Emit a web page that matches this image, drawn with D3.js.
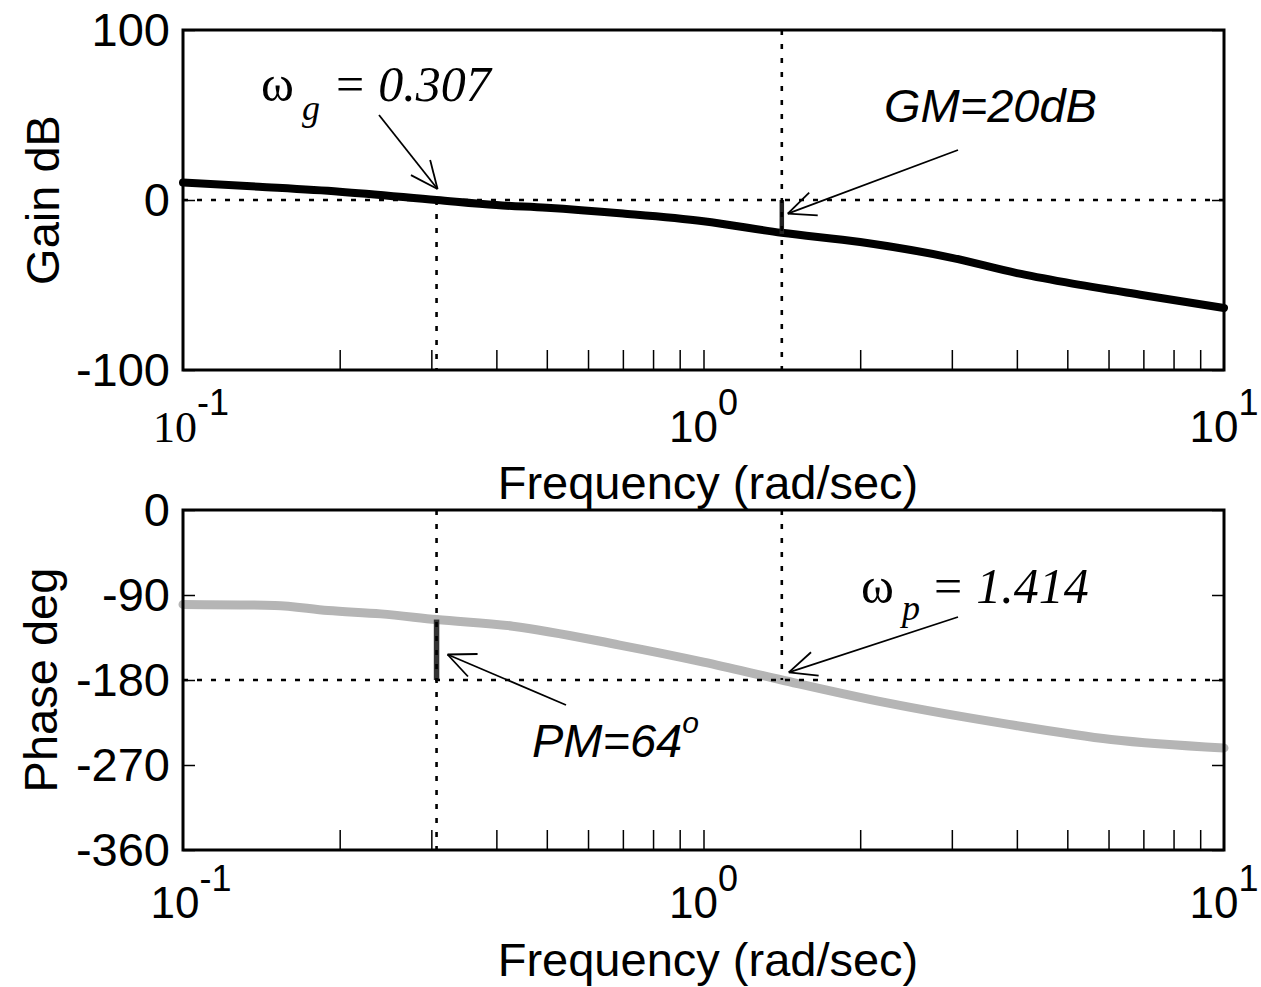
<!DOCTYPE html>
<html>
<head>
<meta charset="utf-8">
<title>Bode plot</title>
<script src="https://d3js.org/d3.v7.min.js"></script>
<style>
  body { margin: 0; background: #fff; }
  text { font-family: "Liberation Sans", Arial, sans-serif; }
</style>
</head>
<body>
<div id="chart"></div>
<script>
// gain curve
const freqGain = [0.1, 0.14, 0.2, 0.307, 0.4, 0.5, 0.7, 1.0, 1.414, 2, 3, 4, 5, 7, 10];
const gainDb = [10.3, 7.8, 4.9, 0, -3, -4.6, -8, -12.5, -19.3, -24.7, -34, -43, -48.6, -56, -63.5];

// phase curve
const freqPhase = [0.1, 0.15, 0.19, 0.24, 0.307, 0.43, 0.69, 1.0, 1.414, 2.24, 3.86, 6.07, 10];
const phaseDeg = [-100, -101, -106.5, -110, -116, -123, -143, -161, -180, -204, -227, -243, -252];

const gainTicks = [-100, 0, 100];
const phaseTicks = [0, -90, -180, -270, -360];
const decadeTicks = [0.1, 1, 10];
const decadeExp = ["-1", "0", "1"];
const minorTicks = [0.2, 0.3, 0.4, 0.5, 0.6, 0.7, 0.8, 0.9, 1, 2, 3, 4, 5, 6, 7, 8, 9];

const wg = 0.307, wp = 1.414, gm = 20, pm = 64;

const W = 1261, H = 987;
const left = 183, right = 1224;

const svg = d3.select("#chart").append("svg")
    .attr("width", W).attr("height", H);

const x = d3.scaleLog().domain([0.1, 10]).range([left, right]);
const yG = d3.scaleLinear().domain([-100, 100]).range([370, 30]);
const yP = d3.scaleLinear().domain([-360, 0]).range([850, 510]);

function frame(y, ticks, top, bottom) {
  const g = svg.append("g");
  // x minor ticks from bottom
  g.append("g")
      .attr("transform", "translate(0," + bottom + ")")
      .call(d3.axisBottom(x).tickValues(minorTicks).tickSize(-20).tickFormat(""))
      .call(a => a.select(".domain").remove())
      .call(a => a.selectAll("line").attr("stroke-width", 1.5));
  g.append("g")
      .attr("transform", "translate(" + left + ",0)")
      .call(d3.axisLeft(y).tickValues(ticks).tickSize(-12).tickPadding(13).tickFormat(d => String(d)))
      .call(a => a.select(".domain").remove())
      .call(a => a.selectAll("line").attr("stroke-width", 1.5))
      .call(a => a.selectAll("text").attr("font-size", 47).attr("fill", "#000")
          .attr("font-family", "'Liberation Sans', Arial, sans-serif"));
  g.append("g")
      .attr("transform", "translate(" + right + ",0)")
      .call(d3.axisRight(y).tickValues(ticks).tickSize(-12).tickFormat(""))
      .call(a => a.select(".domain").remove())
      .call(a => a.selectAll("line").attr("stroke-width", 1.5));
  return g;
}

function decadeLabels(baseline, serifFirst) {
  decadeTicks.forEach((d, i) => {
    const t = svg.append("text")
        .attr("x", x(d) + (i === 0 ? 8 : 0))
        .attr("y", baseline)
        .attr("text-anchor", "middle")
        .attr("font-size", 44);
    t.append("tspan")
        .style("font-family", serifFirst && i === 0 ? "'Liberation Serif', serif" : null)
        .text("10");
    t.append("tspan").attr("dy", -27).attr("font-size", 36).text(decadeExp[i]);
  });
}

function dotted(x1, y1, x2, y2) {
  svg.append("line")
      .attr("x1", x1).attr("y1", y1).attr("x2", x2).attr("y2", y2)
      .attr("stroke", "#000").attr("stroke-width", 2.6)
      .attr("stroke-dasharray", "5,9");
}

function arrow(x1, y1, x2, y2) {
  const g = svg.append("g").attr("stroke", "#000").attr("stroke-width", 1.8).attr("fill", "none");
  g.append("line").attr("x1", x1).attr("y1", y1).attr("x2", x2).attr("y2", y2);
  const a = Math.atan2(y1 - y2, x1 - x2), len = 30, spread = 0.42;
  [a - spread, a + spread].forEach(b => {
    g.append("line").attr("x1", x2).attr("y1", y2)
        .attr("x2", x2 + len * Math.cos(b)).attr("y2", y2 + len * Math.sin(b));
  });
}

const serif = "'Liberation Serif', 'Times New Roman', serif";

// ---------- top: gain ----------
frame(yG, gainTicks, 30, 370);

svg.append("path")
    .datum(freqGain.map((f, i) => [f, gainDb[i]]))
    .attr("fill", "none").attr("stroke", "#000").attr("stroke-width", 8)
    .attr("stroke-linecap", "round").attr("stroke-linejoin", "round")
    .attr("d", d3.line().x(d => x(d[0])).y(d => yG(d[1])).curve(d3.curveMonotoneX));

svg.append("line")
    .attr("x1", x(wp)).attr("x2", x(wp)).attr("y1", yG(0)).attr("y2", yG(-gm))
    .attr("stroke", "#222").attr("stroke-width", 4.5);

dotted(left, yG(0), right, yG(0));
dotted(x(wg), yG(0), x(wg), 370);
dotted(x(wp), 30, x(wp), 370);

svg.append("rect").attr("x", left).attr("y", 30).attr("width", right - left).attr("height", 340)
    .attr("fill", "none").attr("stroke", "#000").attr("stroke-width", 3);

decadeLabels(442, true);
svg.append("text").attr("x", 708).attr("y", 499).attr("text-anchor", "middle")
    .attr("font-size", 47).text("Frequency (rad/sec)");
svg.append("text").attr("transform", "translate(59,200) rotate(-90)")
    .attr("text-anchor", "middle").attr("font-size", 47).text("Gain dB");

const wgLabel = svg.append("text").attr("x", 261).attr("y", 101)
    .attr("font-family", serif).attr("font-size", 50);
wgLabel.append("tspan").style("font-family", serif).text("ω");
wgLabel.append("tspan").style("font-family", serif).attr("font-style", "italic")
    .attr("font-size", 36).attr("dx", 8).attr("dy", 19).text("g");
wgLabel.append("tspan").style("font-family", serif).attr("dx", 16).attr("dy", -19).text("=");
wgLabel.append("tspan").style("font-family", serif).attr("font-style", "italic").attr("dx", 14).text("0.307");
arrow(379, 115, x(wg) + 1, yG(0) - 11);

svg.append("text").attr("x", 884).attr("y", 122).attr("font-size", 47)
    .attr("font-style", "italic").text("GM=20dB");
arrow(958, 150, x(wp) + 6, yG(-8));

// ---------- bottom: phase ----------
frame(yP, phaseTicks, 510, 850);

svg.append("path")
    .datum(freqPhase.map((f, i) => [f, phaseDeg[i]]))
    .attr("fill", "none").attr("stroke", "#b5b5b5").attr("stroke-width", 9)
    .attr("stroke-linecap", "round").attr("stroke-linejoin", "round")
    .attr("d", d3.line().x(d => x(d[0])).y(d => yP(d[1])).curve(d3.curveMonotoneX));

svg.append("line")
    .attr("x1", x(wg)).attr("x2", x(wg)).attr("y1", yP(-180 + pm)).attr("y2", yP(-180))
    .attr("stroke", "#333").attr("stroke-width", 5.5);

dotted(left, yP(-180), right, yP(-180));
dotted(x(wg), 510, x(wg), 850);
dotted(x(wp), 510, x(wp), yP(-180));

svg.append("rect").attr("x", left).attr("y", 510).attr("width", right - left).attr("height", 340)
    .attr("fill", "none").attr("stroke", "#000").attr("stroke-width", 3);

decadeLabels(918, false);
svg.append("text").attr("x", 708).attr("y", 976).attr("text-anchor", "middle")
    .attr("font-size", 47).text("Frequency (rad/sec)");
svg.append("text").attr("transform", "translate(57,680) rotate(-90)")
    .attr("text-anchor", "middle").attr("font-size", 47).text("Phase deg");

const wpLabel = svg.append("text").attr("x", 861).attr("y", 603)
    .attr("font-family", serif).attr("font-size", 50);
wpLabel.append("tspan").style("font-family", serif).text("ω");
wpLabel.append("tspan").style("font-family", serif).attr("font-style", "italic")
    .attr("font-size", 36).attr("dx", 8).attr("dy", 17).text("p");
wpLabel.append("tspan").style("font-family", serif).attr("dx", 14).attr("dy", -17).text("=");
wpLabel.append("tspan").style("font-family", serif).attr("font-style", "italic").attr("dx", 14).text("1.414");
arrow(958, 617, x(wp) + 7, yP(-172));

const pmLabel = svg.append("text").attr("x", 532).attr("y", 757)
    .attr("font-size", 47).attr("font-style", "italic");
pmLabel.append("tspan").text("PM=64");
pmLabel.append("tspan").attr("dy", -24).attr("font-size", 30).text("o");
arrow(566, 705, x(wg) + 11, yP(-153));
</script>
</body>
</html>
